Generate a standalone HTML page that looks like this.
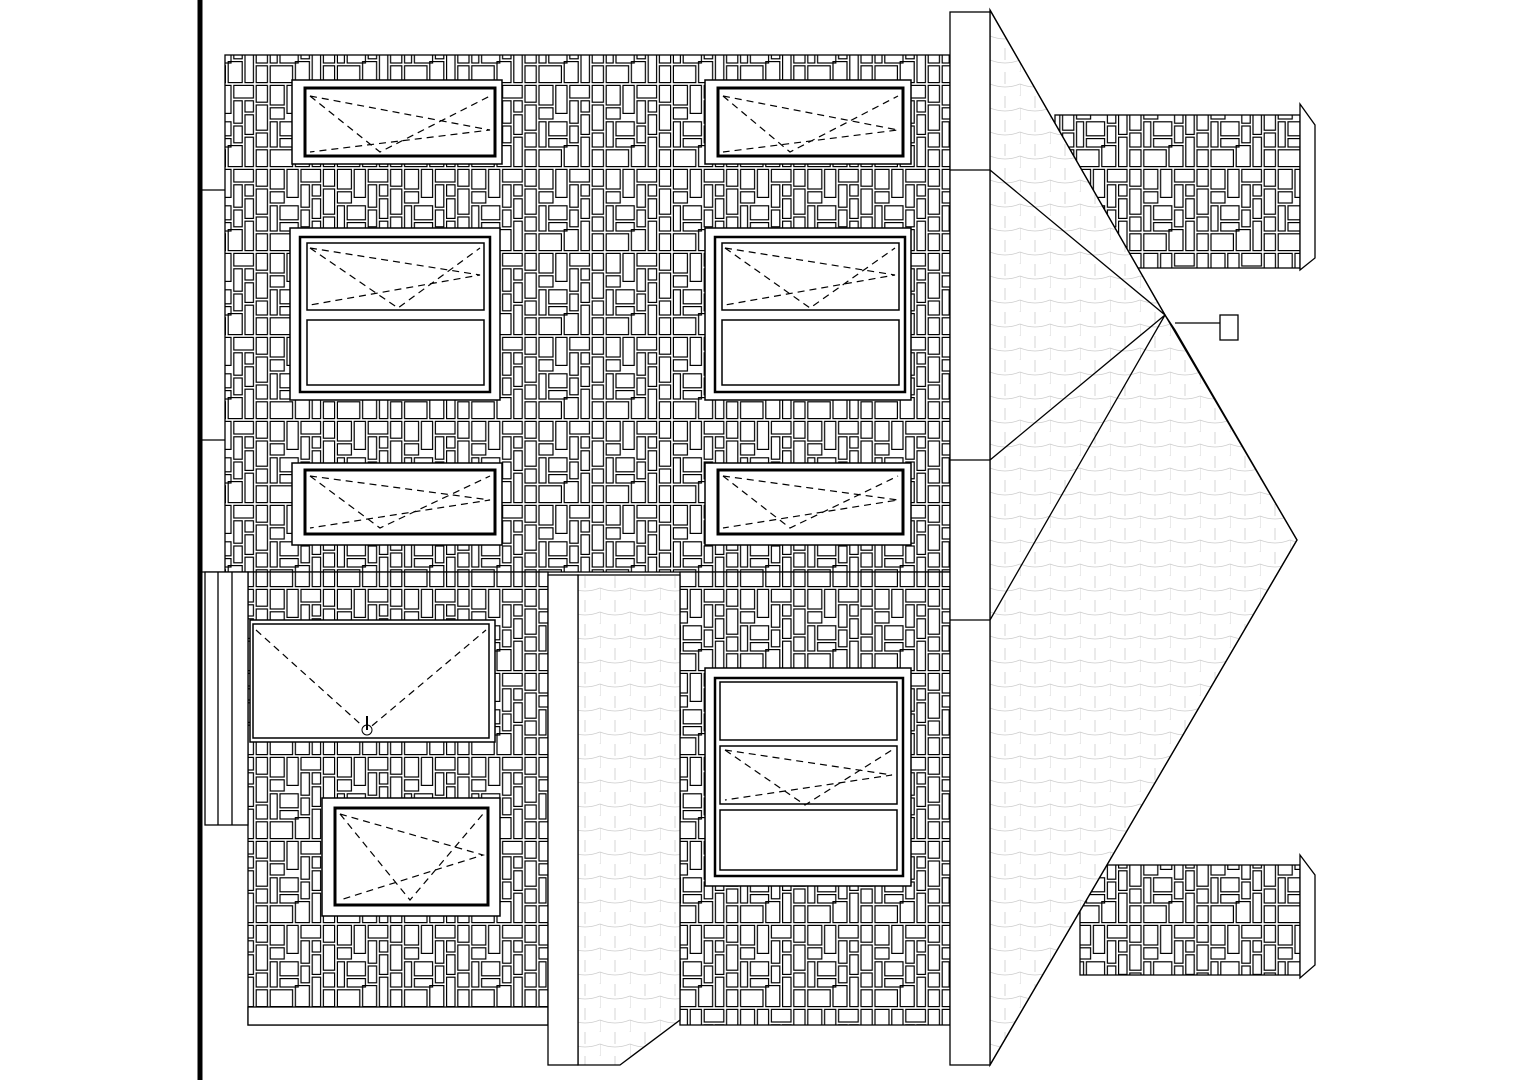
<!DOCTYPE html>
<html><head><meta charset="utf-8"><style>html,body{margin:0;padding:0;background:#fff}svg{display:block}</style></head>
<body>
<svg width="1527" height="1080" viewBox="0 0 1527 1080" xmlns="http://www.w3.org/2000/svg">
<defs>
<pattern id="stone" width="48" height="60" patternUnits="userSpaceOnUse" patternTransform="scale(1.4)">
<rect width="48" height="60" fill="#fff"/>
<g fill="none" stroke="#000" stroke-width="0.85">
<rect x="1" y="1" width="10" height="14"/><rect x="13" y="1" width="8" height="20"/><rect x="23" y="1" width="14" height="9"/><rect x="39" y="1" width="8" height="12"/>
<rect x="23" y="12" width="6" height="16"/><rect x="31" y="12" width="6" height="8"/><rect x="1" y="17" width="10" height="8"/><rect x="39" y="15" width="8" height="18"/>
<rect x="31" y="22" width="6" height="14"/><rect x="1" y="27" width="5" height="18"/><rect x="8" y="27" width="13" height="10"/><rect x="23" y="30" width="6" height="12"/>
<rect x="8" y="39" width="13" height="6"/><rect x="39" y="35" width="8" height="10"/><rect x="1" y="47" width="16" height="12"/><rect x="19" y="44" width="10" height="15"/>
<rect x="31" y="38" width="6" height="21"/><rect x="39" y="47" width="8" height="12"/>
</g></pattern>
<pattern id="shingle" width="30" height="24" patternUnits="userSpaceOnUse">
<rect width="30" height="24" fill="#fff"/>
<path d="M0 12 Q15 18 30 12 M0 24 Q15 30 30 24 M15 0 V12 M0 12 V24" fill="none" stroke="#ccc" stroke-width="0.8"/>
</pattern>
</defs>
<g stroke="#000" fill="none" stroke-width="1.3">
<line x1="200" y1="0" x2="200" y2="1080" stroke-width="5"/>
<line x1="200" y1="190" x2="225" y2="190"/><line x1="200" y1="440" x2="225" y2="440"/><line x1="200" y1="572" x2="248" y2="572"/>
<rect x="225" y="55" width="725" height="517" fill="url(#stone)"/>
<rect x="248" y="572" width="300" height="453" fill="url(#stone)"/>
<rect x="680" y="572" width="270" height="453" fill="url(#stone)"/>
<rect x="205" y="572" width="43" height="253" fill="#fff"/>
<line x1="218" y1="572" x2="218" y2="825"/><line x1="232" y1="572" x2="232" y2="825"/>
<rect x="248" y="1007" width="300" height="18" fill="#fff"/>
<polygon points="578,575 680,575 680,1020 620,1065 578,1065" fill="url(#shingle)"/>
<rect x="548" y="575" width="30" height="490" fill="#fff"/>
<rect x="1055" y="115" width="245" height="153" fill="url(#stone)"/>
<polygon points="1300,104 1315,125 1315,258 1300,270" fill="#fff"/>
<rect x="1080" y="865" width="220" height="110" fill="url(#stone)"/>
<polygon points="1300,855 1315,875 1315,965 1300,978" fill="#fff"/>
<polygon points="990,10 1165,315 1175,330 1297,540 990,1065" fill="url(#shingle)"/>
<polyline points="990,10 1165,315 990,460"/>
<polyline points="990,170 1165,315 990,620"/>
<polyline points="1165,315 1297,540 990,1065"/>
<line x1="1175" y1="323" x2="1220" y2="323"/><rect x="1220" y="315" width="18" height="25" fill="#fff"/>
<rect x="950" y="12" width="40" height="1053" fill="#fff"/>
<line x1="950" y1="170" x2="990" y2="170"/><line x1="950" y1="460" x2="990" y2="460"/><line x1="950" y1="620" x2="990" y2="620"/>
</g>
<g stroke="#000" fill="#fff" stroke-width="1.5">
<rect x="292" y="80" width="210" height="84"/><rect x="305" y="88" width="190" height="68" stroke-width="3"/>
<rect x="705" y="80" width="206" height="84"/><rect x="718" y="88" width="185" height="68" stroke-width="3"/>
<rect x="290" y="228" width="210" height="172"/><rect x="300" y="237" width="190" height="155" stroke-width="2.5"/>
<rect x="307" y="243" width="177" height="67"/><rect x="307" y="320" width="177" height="65"/>
<rect x="705" y="228" width="206" height="172"/><rect x="715" y="237" width="190" height="155" stroke-width="2.5"/>
<rect x="722" y="243" width="177" height="67"/><rect x="722" y="320" width="177" height="65"/>
<rect x="292" y="463" width="210" height="82"/><rect x="305" y="470" width="190" height="64" stroke-width="3"/>
<rect x="705" y="463" width="206" height="82"/><rect x="718" y="470" width="185" height="64" stroke-width="3"/>
<rect x="250" y="620" width="245" height="122"/><rect x="253" y="624" width="236" height="114"/>
<rect x="322" y="798" width="178" height="118"/><rect x="335" y="808" width="153" height="97" stroke-width="3"/>
<rect x="705" y="668" width="206" height="218"/><rect x="715" y="678" width="188" height="198" stroke-width="2.5"/>
<rect x="720" y="682" width="177" height="58"/><rect x="720" y="746" width="177" height="58"/><rect x="720" y="810" width="177" height="60"/>
</g>
<g stroke="#000" fill="none" stroke-width="1.2" stroke-dasharray="7,5">
<polyline points="310,96 490,130 310,152"/><polyline points="310,96 380,152 490,96"/>
<polyline points="723,96 898,130 723,152"/><polyline points="723,96 790,152 898,96"/>
<polyline points="310,248 480,275 310,305"/><polyline points="310,248 398,308 480,248"/>
<polyline points="725,248 895,275 725,305"/><polyline points="725,248 810,308 895,248"/>
<polyline points="310,476 490,500 310,528"/><polyline points="310,476 380,528 490,476"/>
<polyline points="723,476 898,500 723,528"/><polyline points="723,476 790,528 898,476"/>
<polyline points="256,630 367,730 486,630"/>
<polyline points="340,814 483,855 340,900"/><polyline points="340,814 410,900 483,814"/>
<polyline points="725,750 892,775 725,800"/><polyline points="725,750 805,805 892,750"/>
</g>
<circle cx="367" cy="730" r="5" fill="#fff" stroke="#000"/><line x1="367" y1="716" x2="367" y2="730" stroke="#000" stroke-width="2"/>
</svg>
</body></html>
